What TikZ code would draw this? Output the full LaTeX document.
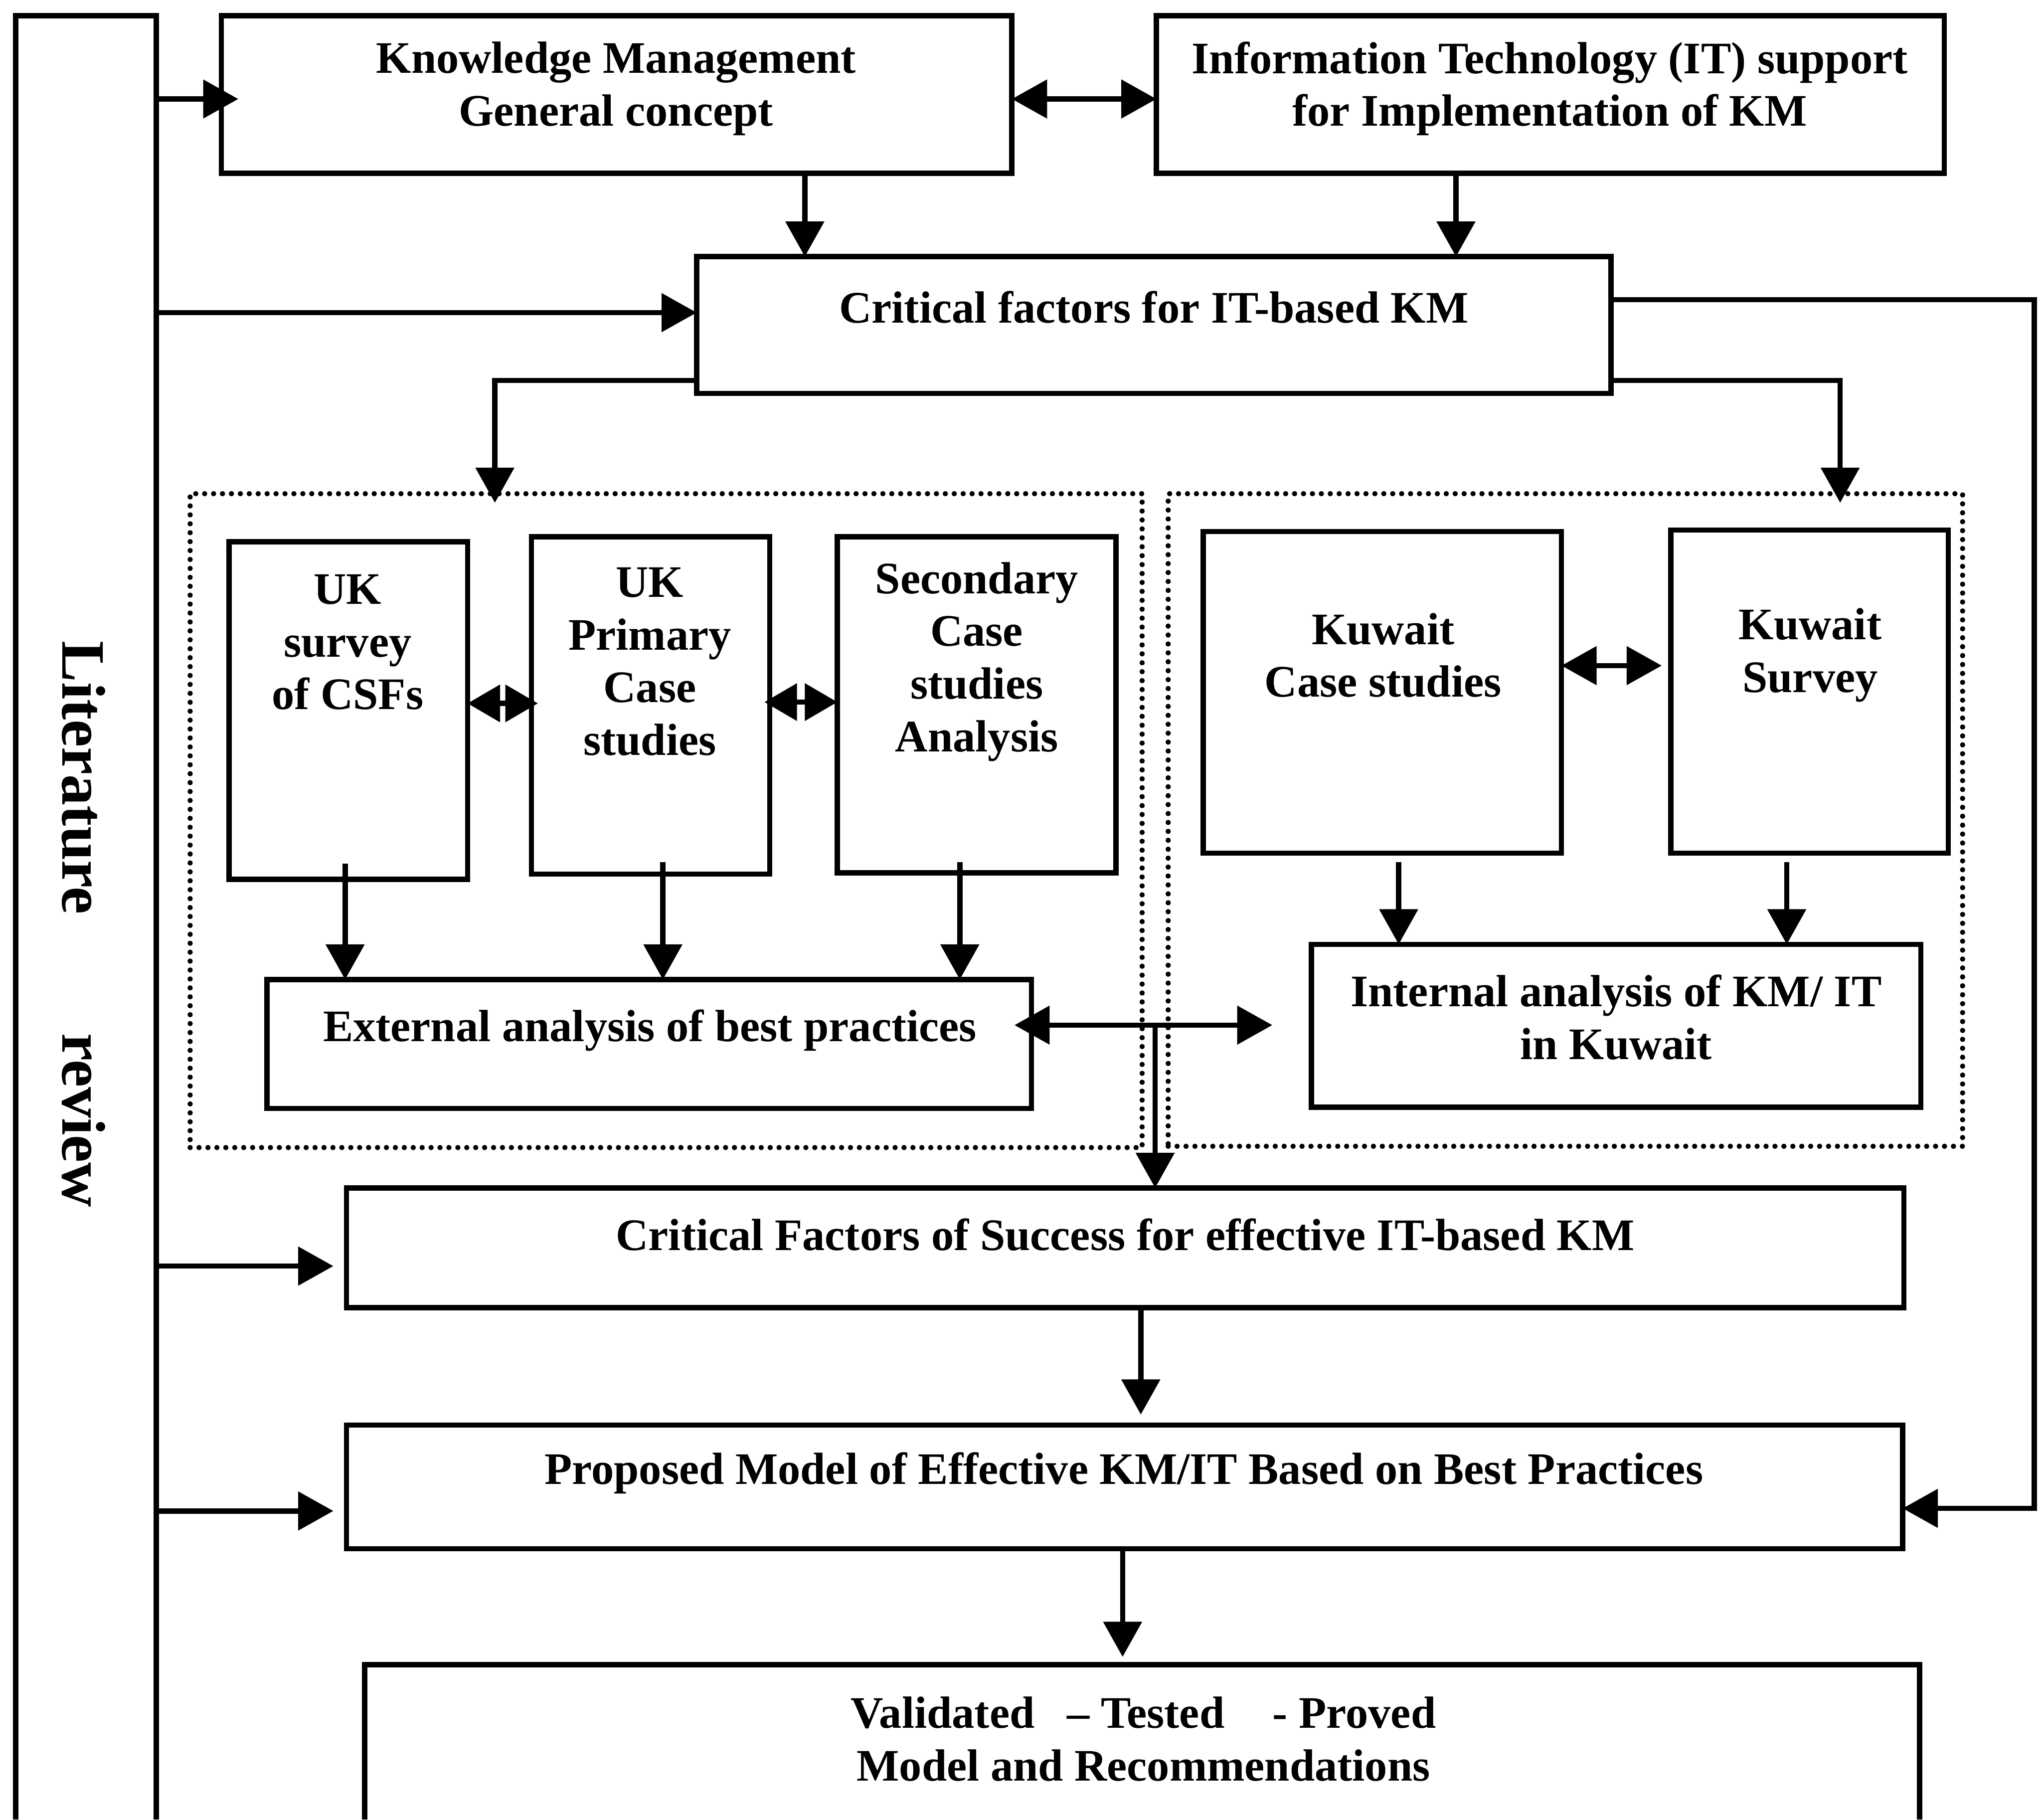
\documentclass[tikz,border=0pt]{standalone}
\usepackage{fontspec}
\setmainfont{Liberation Serif}
\usetikzlibrary{arrows.meta,fit,calc}
\begin{document}
\begin{tikzpicture}[x=0.02cm,y=-0.02cm,
  line width=2.3pt,
  box/.style={draw, rectangle, inner sep=0pt, outer sep=0pt},
  dotbox/.style={draw, rectangle, inner sep=0pt, outer sep=0pt,
    line cap=round, dash pattern=on 0pt off 3.9pt},
  lbl/.style={align=center, inner sep=0pt,
    font=\fontsize{19.7}{23}\selectfont\bfseries},
  litlbl/.style={inner sep=0pt, rotate=-90, anchor=base,
    font=\fontsize{27}{30}\selectfont\bfseries},
  arr/.style={-{Triangle[length=0.54cm,width=0.58cm]}},
  dbl/.style={{Triangle[length=0.54cm,width=0.58cm]}-{Triangle[length=0.54cm,width=0.58cm]}},
  sdbl/.style={{Triangle[length=0.5cm,width=0.56cm]}-{Triangle[length=0.5cm,width=0.56cm]}},
]
\useasboundingbox (0,0) rectangle (1568,1397);

% literature review column, open at the bottom
\draw (12,1397) -- (12,12) -- (120,12) -- (120,1397);
\node[litlbl] (lit1) at (48,597) {Literature};
\node[litlbl] (lit2) at (48,860) {review};

% boxes
\node[box, fit={(170,12) (777,133)}] (km) {};
\node[box, fit={(888,12) (1493,133)}] (it) {};
\node[box, fit={(535,197) (1237,302)}] (cf) {};
\node[dotbox, fit={(146,379) (877,881)}] (dotL) {};
\node[dotbox, fit={(897,379) (1507,880)}] (dotR) {};
\node[box, fit={(176,416) (359,675)}] (ukS) {};
\node[box, fit={(408,412) (591,671)}] (ukP) {};
\node[box, fit={(643,412) (857,670)}] (sec) {};
\node[box, fit={(205,752) (792,851)}] (ext) {};
\node[box, fit={(924,408) (1199,655)}] (kwC) {};
\node[box, fit={(1283,407) (1496,655)}] (kwS) {};
\node[box, fit={(1007,725) (1475,850)}] (int) {};
\node[box, fit={(266,912) (1462,1004)}] (cfs) {};
\node[box, fit={(266,1094) (1461,1189)}] (prop) {};
% final box, open at the bottom
\draw (280,1397) -- (280,1278) -- (1474,1278) -- (1474,1397);
\coordinate (val) at (877,1278);

% texts
\node[lbl] (kmT) at (473,68) {Knowledge Management\\General concept};
\node[lbl] (itT) at (1190,68) {Information Technology (IT) support\\for Implementation of KM};
\node[lbl] (cfT) at (886,236) {Critical factors for IT-based KM};
\node[lbl] (ukST) at (267,493) {UK\\survey\\of CSFs};
\node[lbl] (ukPT) at (499,508) {UK\\Primary\\Case\\studies};
\node[lbl] (secT) at (750,508) {Secondary\\Case\\studies\\Analysis};
\node[lbl] (extT) at (499,791) {External analysis of best practices};
\node[lbl] (kwCT) at (1062,503) {Kuwait\\Case studies};
\node[lbl] (kwST) at (1390,503) {Kuwait\\Survey};
\node[lbl] (intT) at (1241,781) {Internal analysis of KM/ IT\\in Kuwait};
\node[lbl] (cfsT) at (864,948) {Critical Factors of Success for effective IT-based KM};
\node[lbl] (propT) at (863,1131) {Proposed Model of Effective KM/IT Based on Best Practices};
\node[lbl] (valT) at (878,1335) {Validated\hspace{0.5cm}--~Tested\hspace{0.74cm}-~Proved\\Model and Recommendations};

% guide coordinates
\coordinate (l1) at (120,76);
\coordinate (l2) at (120,240);
\coordinate (l3) at (120,972);
\coordinate (l4) at (120,1160);
\coordinate (yk) at (0,76);
\coordinate (xa) at (618,0);
\coordinate (xb) at (1118,0);
\coordinate (ylow) at (0,292);
\coordinate (yhigh) at (0,230);
\coordinate (dL) at (380,386);
\coordinate (dR) at (1413,386);
\coordinate (pr) at (1562,1158);
\coordinate (yu1) at (0,540);
\coordinate (yu2) at (0,539);
\coordinate (uA) at (265,663);
\coordinate (uB) at (509,662);
\coordinate (uC) at (737,662);
\coordinate (yw) at (0,511);
\coordinate (kwEnd) at (1276,511);
\coordinate (kA) at (1074,662);
\coordinate (kB) at (1372,662);
\coordinate (eR) at (977,787);
\coordinate (eM) at (887,787);
\coordinate (xc) at (876,0);
\coordinate (xd) at (862,0);

% connectors from the literature column
\draw[arr, shorten >=-0.26cm] (l1) -- (l1 -| km.west);
\draw[arr] (l2) -- (l2 -| cf.west);
\draw[arr, shorten >=0.2cm] (l3) -- (l3 -| cfs.west);
\draw[arr, shorten >=0.2cm] (l4) -- (l4 -| prop.west);

% top row
\draw[dbl] (km.east |- yk) -- (it.west |- yk);
\draw[arr] (km.south -| xa) -- (cf.north -| xa);
\draw[arr] (it.south -| xb) -- (cf.north -| xb);

% branches out of the critical factors box
\draw[arr] (cf.west |- ylow) -| (dL);
\draw[arr] (cf.east |- ylow) -| (dR);
\draw[arr] (cf.east |- yhigh) -| (pr) -- (pr -| prop.east);

% UK group
\draw[sdbl] (ukS.east |- yu1) -- ($(ukP.west |- yu1)+(5,0)$);
\draw[sdbl] ($(ukP.east |- yu2)+(-4,0)$) -- (sec.west |- yu2);
\draw[arr] (uA) -- (uA |- ext.north);
\draw[arr] (uB) -- (uB |- ext.north);
\draw[arr] (uC) -- (uC |- ext.north);

% Kuwait group
\draw[dbl] (kwC.east |- yw) -- (kwEnd);
\draw[arr] (kA) -- (kA |- int.north);
\draw[arr] (kB) -- (kB |- int.north);

% joining the two analyses
\draw[dbl, shorten <=-0.26cm] (ext.east |- eR) -- (eR);
\draw[arr] (eM) -- (eM |- cfs.north);

% lower chain
\draw[arr, shorten >=0.16cm] (cfs.south -| xc) -- (prop.north -| xc);
\draw[arr, shorten >=0.12cm] (prop.south -| xd) -- (val -| xd);
\end{tikzpicture}
\end{document}
